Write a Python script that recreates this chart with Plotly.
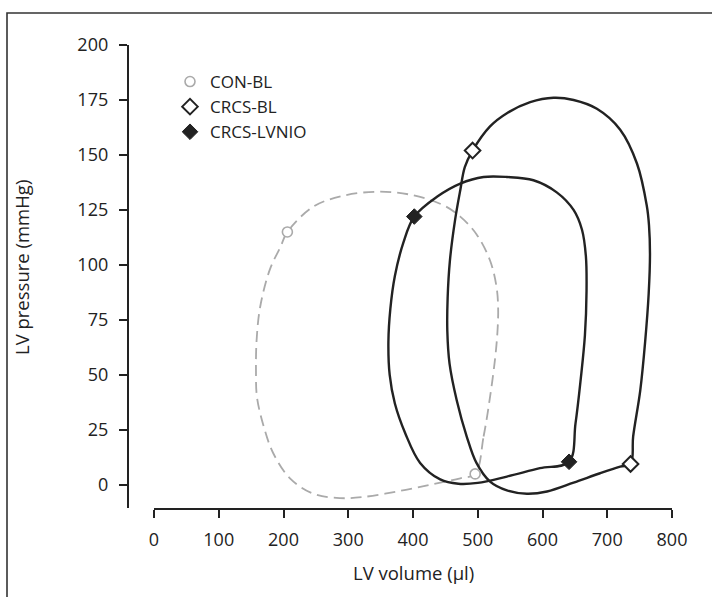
import plotly.graph_objects as go

# ---- data (LV volume in µl, LV pressure in mmHg) ----
con_bl_vol = [496, 509, 519, 527, 530.5, 531.5, 529, 519, 498, 473, 446, 395, 344, 290, 246, 206,
              195, 179, 164, 158.5, 157.5, 159, 169, 184, 210, 246, 287, 323, 375, 426, 473, 496]
con_bl_prs = [5, 22, 40, 58, 70, 80, 90, 102, 114, 122, 127.3, 132, 133.3, 131.3, 126.5, 115,
              108, 98, 81, 66, 52, 40, 27, 14.5, 3, -4, -6, -5.5, -3, 0, 3, 5]

crcs_bl_vol = [736, 740, 751, 758.5, 764, 766, 764.5, 761, 746, 720, 684, 648, 617, 581, 545, 519, 492,
               480, 473, 465, 457, 453.5, 453, 456.5, 467.5, 483, 498, 519, 545, 576, 607, 648, 689, 720, 736]
crcs_bl_prs = [9.5, 22, 43, 65, 87, 105, 118, 127, 146, 161.5, 171, 175, 176, 174, 169, 163, 152,
               144.5, 134, 120.5, 102, 85, 70, 55, 38.5, 22, 10, 1.5, -2.5, -4, -3, 1, 5.3, 8.3, 9.5]

crcs_lvnio_vol = [641, 651, 659, 665.5, 668, 667, 661, 648, 622, 586, 545, 509, 473, 437, 402,
                  385, 372, 365, 362, 364, 372, 388, 411, 442, 470, 500, 545, 596, 641]
crcs_lvnio_prs = [10.5, 28, 48, 68, 88, 104, 116, 125, 133, 138.5, 140, 140, 137, 131, 122,
                  110, 95, 80, 65, 50, 37, 23.5, 10, 2.5, 0.5, 0.9, 3.8, 7.6, 10.5]

# marker points (end-diastole / end-systole)
con_bl_mk_vol, con_bl_mk_prs = [206, 496], [115, 5]
crcs_bl_mk_vol, crcs_bl_mk_prs = [492, 736], [152, 9.5]
crcs_lvnio_mk_vol, crcs_lvnio_mk_prs = [402, 641], [122, 10.5]

x_ticks = [0, 100, 200, 300, 400, 500, 600, 700, 800]
y_ticks = [0, 25, 50, 75, 100, 125, 150, 175, 200]

W, H = 712, 597
FONT = "Open Sans"
INK = "#222222"
GREY = "#aaaaaa"

fig = go.Figure()

# loops
fig.add_trace(go.Scatter(x=con_bl_vol, y=con_bl_prs, mode="lines",
                         line=dict(color=GREY, width=1.8, dash="11px,6px", shape="spline", smoothing=1.0),
                         showlegend=False, hoverinfo="skip"))
fig.add_trace(go.Scatter(x=crcs_lvnio_vol, y=crcs_lvnio_prs, mode="lines",
                         line=dict(color=INK, width=2.4, shape="spline", smoothing=1.0),
                         showlegend=False, hoverinfo="skip"))
fig.add_trace(go.Scatter(x=crcs_bl_vol, y=crcs_bl_prs, mode="lines",
                         line=dict(color=INK, width=2.4, shape="spline", smoothing=1.0),
                         showlegend=False, hoverinfo="skip"))

# markers (legend entries)
fig.add_trace(go.Scatter(x=con_bl_mk_vol, y=con_bl_mk_prs, mode="markers", name="CON-BL",
                         marker=dict(symbol="circle", size=10, color="white",
                                     line=dict(color=GREY, width=1.6))))
fig.add_trace(go.Scatter(x=crcs_bl_mk_vol, y=crcs_bl_mk_prs, mode="markers", name="CRCS-BL",
                         marker=dict(symbol="diamond", size=12, color="white",
                                     line=dict(color=INK, width=2))))
fig.add_trace(go.Scatter(x=crcs_lvnio_mk_vol, y=crcs_lvnio_mk_prs, mode="markers", name="CRCS-LVNIO",
                         marker=dict(symbol="diamond", size=12, color=INK,
                                     line=dict(color=INK, width=1))))

x_dom = [154 / W, 672 / W]
y_dom = [1 - 508 / H, 1 - 45 / H]

fig.update_layout(
    width=W, height=H,
    margin=dict(l=0, r=0, t=0, b=0, pad=0),
    paper_bgcolor="white", plot_bgcolor="white",
    font=dict(family=FONT, size=18, color=INK),
    xaxis=dict(domain=x_dom, range=[0, 800], tickvals=x_ticks, automargin=False,
               showgrid=False, zeroline=False, showline=True, linecolor=INK, linewidth=2.3,
               ticks="outside", ticklen=8, tickwidth=2.3, tickcolor=INK,
               ticklabelstandoff=6, anchor="free", position=1 - 509 / H,
               tickfont=dict(family=FONT, size=18, color=INK)),
    yaxis=dict(domain=y_dom, range=[-10.5, 200], tickvals=y_ticks, automargin=False,
               showgrid=False, zeroline=False, showline=True, linecolor=INK, linewidth=2.3,
               ticks="outside", ticklen=8, tickwidth=2.3, tickcolor=INK,
               ticklabelstandoff=7, anchor="free", position=128 / W,
               tickfont=dict(family=FONT, size=18, color=INK)),
    legend=dict(x=170 / W, y=1 - 64 / H, xanchor="left", yanchor="top",
                bgcolor="rgba(0,0,0,0)", font=dict(family=FONT, size=17, color=INK),
                tracegroupgap=0, itemclick=False),
    annotations=[
        dict(text="LV volume (µl)", xref="paper", yref="paper", x=413 / W, y=1 - 572 / H,
             xanchor="center", yanchor="middle", showarrow=False,
             font=dict(family=FONT, size=18.5, color=INK)),
        dict(text="LV pressure (mmHg)", xref="paper", yref="paper", x=21 / W, y=1 - 268 / H,
             xanchor="center", yanchor="middle", showarrow=False, textangle=-90,
             font=dict(family=FONT, size=18.5, color=INK)),
    ],
    shapes=[
        dict(type="rect", xref="paper", yref="paper", x0=7 / W, x1=1.05, y0=-0.05, y1=1 - 13 / H,
             line=dict(color="#333333", width=1.6), fillcolor="rgba(0,0,0,0)", layer="below"),
    ],
)

fig.write_html("out.html", config={"displayModeBar": False},
               post_script="document.body.style.margin='0px';document.body.style.overflow='hidden';")
